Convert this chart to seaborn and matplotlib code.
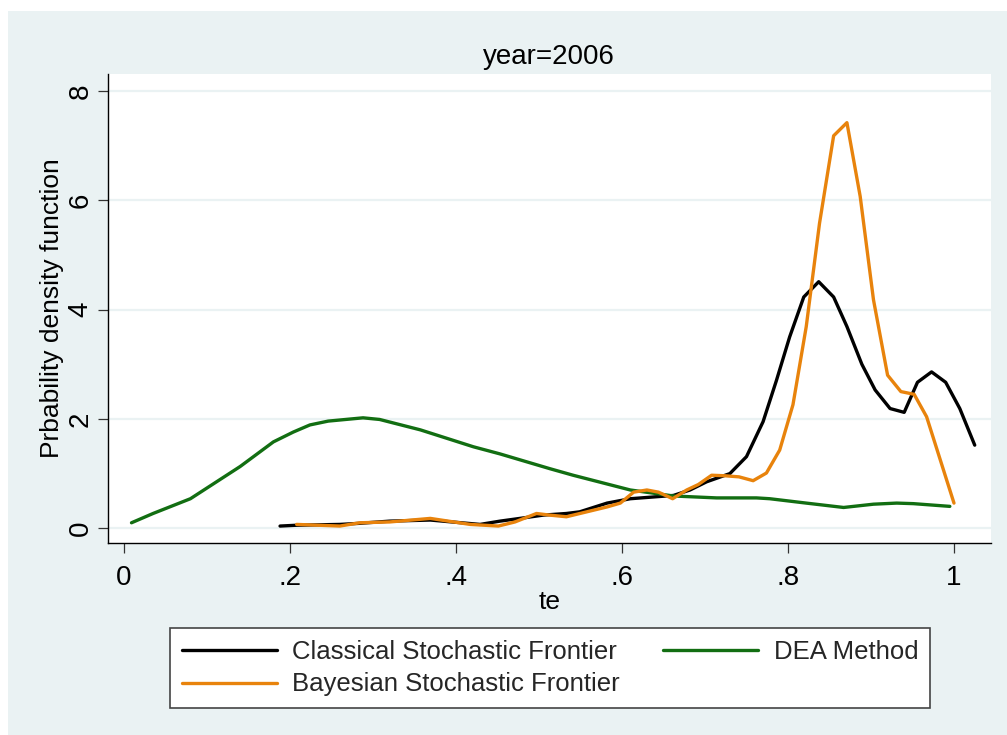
import matplotlib
matplotlib.use("Agg")
import matplotlib.pyplot as plt
import numpy as np
import pandas as pd
import seaborn as sns
from matplotlib.patches import Rectangle

# Kernel density estimates of technical efficiency, year 2006
classical_te = [0.188, 0.208, 0.260, 0.284, 0.320, 0.369, 0.429, 0.453, 0.477, 0.505,
                0.533, 0.549, 0.582, 0.610, 0.662, 0.682, 0.702, 0.730, 0.750, 0.770,
                0.786, 0.802, 0.819, 0.837, 0.855, 0.871, 0.889, 0.905, 0.923, 0.940,
                0.956, 0.973, 0.990, 1.007, 1.025]
classical_d = [0.04, 0.055, 0.07, 0.09, 0.13, 0.15, 0.07, 0.13, 0.18, 0.24,
               0.27, 0.30, 0.46, 0.54, 0.60, 0.70, 0.85, 1.00, 1.31, 1.95,
               2.70, 3.50, 4.23, 4.51, 4.23, 3.69, 3.00, 2.53, 2.19, 2.12,
               2.67, 2.86, 2.67, 2.19, 1.52]

bayes_te = [0.208, 0.260, 0.284, 0.320, 0.369, 0.417, 0.451, 0.471, 0.497, 0.513,
            0.533, 0.582, 0.598, 0.614, 0.630, 0.644, 0.661, 0.678, 0.692, 0.708,
            0.724, 0.741, 0.758, 0.774, 0.790, 0.806, 0.822, 0.838, 0.855, 0.871,
            0.887, 0.903, 0.920, 0.936, 0.952, 0.967, 1.000]
bayes_d = [0.07, 0.04, 0.10, 0.115, 0.18, 0.07, 0.04, 0.115, 0.27, 0.24,
           0.21, 0.39, 0.46, 0.66, 0.70, 0.66, 0.54, 0.70, 0.80, 0.97,
           0.96, 0.94, 0.87, 1.01, 1.43, 2.26, 3.69, 5.58, 7.18, 7.42,
           6.07, 4.18, 2.80, 2.50, 2.45, 2.04, 0.46]

dea_te = [0.009, 0.035, 0.080, 0.140, 0.180, 0.204, 0.224, 0.246, 0.288, 0.308,
          0.357, 0.421, 0.453, 0.513, 0.541, 0.610, 0.662, 0.714, 0.762, 0.778,
          0.822, 0.867, 0.903, 0.931, 0.951, 0.995]
dea_d = [0.10, 0.27, 0.54, 1.13, 1.58, 1.76, 1.89, 1.96, 2.02, 1.99,
         1.80, 1.49, 1.36, 1.09, 0.97, 0.70, 0.59, 0.555, 0.555, 0.54,
         0.46, 0.38, 0.44, 0.46, 0.45, 0.40]

methods = ["Classical Stochastic Frontier", "DEA Method", "Bayesian Stochastic Frontier"]
colors = {"Classical Stochastic Frontier": "#000000",
          "DEA Method": "#126E12",
          "Bayesian Stochastic Frontier": "#E8830C"}

x_ticks = [0, 0.2, 0.4, 0.6, 0.8, 1.0]
x_tick_labels = ["0", ".2", ".4", ".6", ".8", "1"]
y_ticks = [0, 2, 4, 6, 8]
y_tick_labels = ["0", "2", "4", "6", "8"]

frames = []
for name, xs, ys in zip(methods,
                        [classical_te, dea_te, bayes_te],
                        [classical_d, dea_d, bayes_d]):
    frames.append(pd.DataFrame({"te": xs, "density": ys, "method": name,
                                "order": np.arange(len(xs))}))
df = pd.concat(frames, ignore_index=True)

sns.set_theme(style="white")
plt.rcParams["font.family"] = ["Liberation Sans", "DejaVu Sans"]

W, H = 1007, 735
BG = "#EAF2F3"
fig = plt.figure(figsize=(W / 100, H / 100), dpi=100)
fig.patch.set_facecolor("white")
fig.add_artist(Rectangle((8 / W, 0), (W - 8) / W, (H - 11) / H,
                         transform=fig.transFigure, facecolor=BG,
                         edgecolor="none", zorder=-5))

ax = fig.add_axes([108 / W, 1 - 543 / H, 883 / W, 469 / H])
ax.set_facecolor("white")

sns.lineplot(data=df, x="te", y="density", hue="method", hue_order=methods,
             palette=colors, sort=False, estimator=None, units="method",
             linewidth=2.4, ax=ax, legend=True)

ax.set_xlim(-0.0193, 1.0446)
ax.set_ylim(-0.27, 8.31)
ax.set_xticks(x_ticks)
ax.set_xticklabels(x_tick_labels)
ax.set_yticks(y_ticks)
ax.set_yticklabels(y_tick_labels, rotation=90, va="center")

ax.set_axisbelow(True)
ax.yaxis.grid(True, color=BG, linewidth=1.6)
ax.xaxis.grid(False)

for side in ["top", "right"]:
    ax.spines[side].set_visible(False)
for side in ["left", "bottom"]:
    ax.spines[side].set_color("black")
    ax.spines[side].set_linewidth(1.0)

ax.tick_params(axis="both", which="major", bottom=True, left=True,
               direction="out", length=7.5, width=0.9, color="#333333",
               labelsize=20, labelcolor="black")
ax.tick_params(axis="x", pad=8)
ax.tick_params(axis="y", pad=3)

ax.set_xlabel("te", fontsize=19, color="black")
ax.xaxis.set_label_coords(0.5, (543 - 602) / 469)
ax.xaxis.label.set_va("center")
ax.set_ylabel("Prbability density function", fontsize=19, color="black")
ax.yaxis.set_label_coords((52 - 108) / 883, 0.5)
ax.yaxis.label.set_va("center")

fig.text(549 / W, 1 - 57 / H, "year=2006", ha="center", va="center",
         fontsize=20, color="black")

handles, labels = ax.get_legend_handles_labels()
lookup = dict(zip(labels, handles))
order = ["Classical Stochastic Frontier", "Bayesian Stochastic Frontier", "DEA Method"]
ax.get_legend().remove()
leg = fig.legend([lookup[k] for k in order], order, ncol=2, loc="center",
                 bbox_to_anchor=(550 / W, 1 - 668 / H),
                 bbox_transform=fig.transFigure, fontsize=18.5,
                 frameon=True, fancybox=False, framealpha=1.0,
                 edgecolor="#444444", handlelength=3.7, handletextpad=0.6,
                 columnspacing=1.7, labelspacing=0.35, borderpad=0.45)
leg.get_frame().set_linewidth(1.2)
for line in leg.get_lines():
    line.set_linewidth(2.4)

fig.savefig("out.png", dpi=100, facecolor="white")
